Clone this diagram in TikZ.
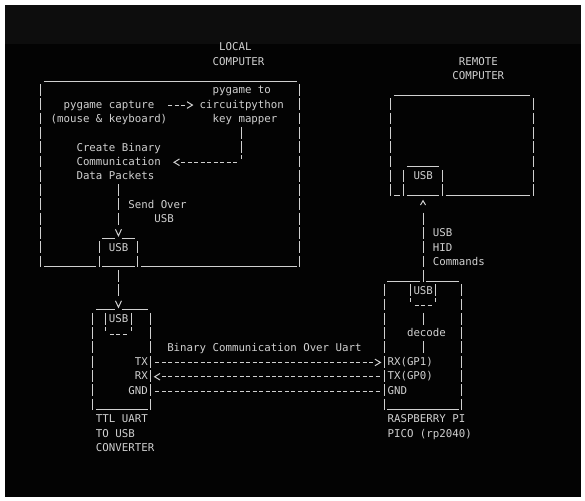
\documentclass[tikz,border=0pt]{standalone}
\usepackage{fontspec}
\setmonofont{DejaVu Sans Mono}
\definecolor{fg}{HTML}{D0D0D0}
\definecolor{bgdark}{HTML}{030303}
\definecolor{bgband}{HTML}{0D0D0D}
\tikzset{
  txt/.style={font=\ttfamily\fontsize{10.76}{12}\selectfont, text=fg, inner sep=0pt, anchor=base west},
  bar/.style={draw=fg, line width=1pt, dash pattern=on 11.8pt off 2.5pt, dash phase=13.05pt},
  ul/.style={draw=fg, line width=1pt},
  dsh/.style={draw=fg, line width=1pt, dash pattern=on 4pt off 2.48pt, dash phase=5.24pt},
  tip/.style={draw=fg, line width=1pt, line join=miter},
}
% text at column #2, row #3
\newcommand\txtat[4]{\node[txt] (#1) at ({#2-0.5},{#3+0.274}) {#4};}
% vertical bar characters in column #1 from row #2 to row #3
\newcommand\vbar[3]{\draw[bar] (#1,{#2-0.5}) -- (#1,{#3+0.5});}
% underscore run from column #1 to #2 on row #3
\newcommand\hul[3]{\draw[ul] ({#1-0.5},{#3+0.38}) -- ({#2+0.5},{#3+0.38});}
% named dashed connector from column #2 to #3 on row #4
\newcommand\conn[4]{\coordinate (#1a) at ({#2-0.5},{#4+0.07}); \coordinate (#1b) at ({#3+0.5},{#4+0.07}); \draw[dsh] (#1a) -- (#1b);}
\newcommand\tick[2]{\draw[ul] (#1,{#2-0.42}) -- (#1,{#2-0.17});}
\newcommand\tipR[2]{\draw[tip] ({#1-0.42},{#2-0.17}) -- ({#1+0.42},{#2+0.06}) -- ({#1-0.42},{#2+0.29});}
\newcommand\tipL[2]{\draw[tip] ({#1+0.42},{#2-0.17}) -- ({#1-0.42},{#2+0.06}) -- ({#1+0.42},{#2+0.29});}
\newcommand\tipD[2]{\draw[tip] ({#1-0.46},{#2-0.25}) -- (#1,{#2+0.2}) -- ({#1+0.46},{#2-0.25});}
\newcommand\tipU[2]{\draw[tip] ({#1-0.39},{#2+0.05}) -- (#1,{#2-0.25}) -- ({#1+0.39},{#2+0.05});}
\begin{document}
\begin{tikzpicture}[x=6.48pt, y=-14.3pt]
% background and frame
\fill[white] (-40.7pt,47pt) rectangle (544.3pt,-453pt);
\useasboundingbox (-40.7pt,47pt) rectangle (544.3pt,-453pt);
\fill[bgdark] (-35.7pt,42pt) rectangle (540.3pt,-450pt);
\fill[bgband] (-35.7pt,42pt) rectangle (540.3pt,3pt);

% ---------- LOCAL COMPUTER ----------
\txtat{localA}{28}{0}{LOCAL}
\txtat{localB}{27}{1}{COMPUTER}
\hul{1}{39}{2}
\vbar{0}{3}{15}
\vbar{40}{3}{15}
\txtat{map1}{27}{3}{pygame to}
\txtat{cap1}{4}{4}{pygame capture}
\txtat{map2}{25}{4}{circuitpython}
\txtat{cap2}{2}{5}{(mouse \& keyboard)}
\txtat{map3}{27}{5}{key mapper}
\conn{capmap}{20}{22}{4}
\tipR{23}{4}
\vbar{31}{6}{7}
\tick{31}{8}
\conn{mappk}{22}{30}{8}
\tipL{21}{8}
\txtat{pk1}{6}{7}{Create Binary}
\txtat{pk2}{6}{8}{Communication}
\txtat{pk3}{6}{9}{Data Packets}
\vbar{12}{10}{12}
\txtat{send1}{14}{11}{Send Over}
\txtat{send2}{18}{12}{USB}
\hul{10}{11}{13}
\hul{13}{14}{13}
\tipD{12}{13}
\vbar{9}{14}{15}
\vbar{15}{14}{15}
\txtat{lusb}{11}{14}{USB}
\hul{1}{8}{15}
\hul{10}{14}{15}
\hul{16}{39}{15}

% ---------- link to TTL converter ----------
\vbar{12}{16}{17}
\hul{9}{11}{18}
\hul{13}{16}{18}
\tipD{12}{18}

% ---------- TTL UART converter ----------
\vbar{8}{19}{25}
\vbar{17}{19}{25}
\vbar{10}{19}{19}
\vbar{14}{19}{19}
\txtat{tusb}{11}{19}{USB}
\tick{10}{20}
\tick{14}{20}
\conn{tport}{11}{13}{20}
\txtat{tx}{15}{22}{TX}
\txtat{rx}{15}{23}{RX}
\txtat{gnd}{14}{24}{GND}
\hul{9}{16}{25}
\txtat{ttl1}{9}{26}{TTL UART}
\txtat{ttl2}{9}{27}{TO USB}
\txtat{ttl3}{9}{28}{CONVERTER}

% ---------- UART links ----------
\txtat{uart}{20}{21}{Binary Communication Over Uart}
\conn{txline}{18}{51}{22}
\tipR{52}{22}
\tipL{18}{23}
\conn{rxline}{19}{52}{23}
\conn{gndline}{18}{52}{24}

% ---------- REMOTE COMPUTER ----------
\txtat{remA}{65}{1}{REMOTE}
\txtat{remB}{64}{2}{COMPUTER}
\hul{55}{75}{3}
\vbar{54}{4}{10}
\vbar{76}{4}{10}
\hul{57}{61}{8}
\vbar{56}{9}{10}
\vbar{62}{9}{10}
\txtat{rusb}{58}{9}{USB}
\hul{55}{55}{10}
\hul{57}{61}{10}
\hul{63}{75}{10}

% ---------- USB HID link ----------
\tipU{59}{11}
\vbar{59}{12}{16}
\txtat{hid1}{61}{13}{USB}
\txtat{hid2}{61}{14}{HID}
\txtat{hid3}{61}{15}{Commands}

% ---------- RASPBERRY PI PICO ----------
\hul{54}{58}{16}
\hul{60}{64}{16}
\vbar{53}{17}{25}
\vbar{65}{17}{25}
\vbar{57}{17}{17}
\vbar{61}{17}{17}
\txtat{pusb}{58}{17}{USB}
\tick{57}{18}
\tick{61}{18}
\conn{pport}{58}{60}{18}
\vbar{59}{19}{19}
\txtat{decode}{57}{20}{decode}
\vbar{59}{21}{21}
\txtat{prx}{54}{22}{RX(GP1)}
\txtat{ptx}{54}{23}{TX(GP0)}
\txtat{pgnd}{54}{24}{GND}
\hul{54}{64}{25}
\txtat{pico1}{54}{26}{RASPBERRY PI}
\txtat{pico2}{54}{27}{PICO (rp2040)}
\end{tikzpicture}
\end{document}
